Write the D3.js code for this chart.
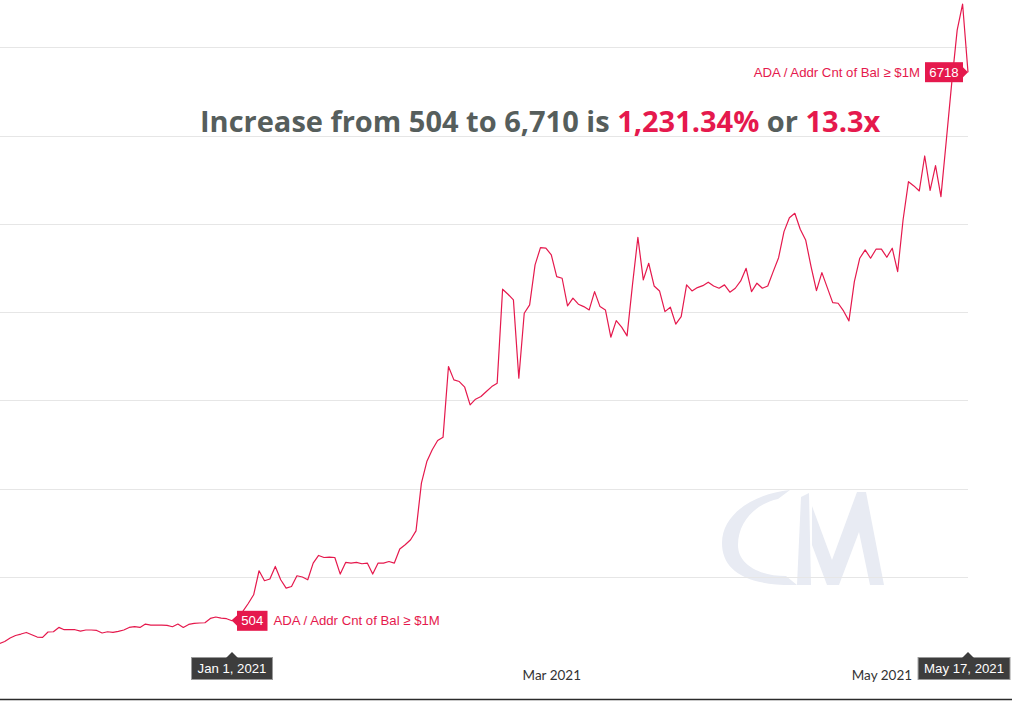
<!DOCTYPE html>
<html>
<head>
  <meta charset="utf-8" />
  <title>ADA / Addr Cnt of Bal ≥ $1M</title>
  <style>
    body { margin: 0; background: #fff; }
    svg { display: block; }
    .tick text { font-family: Lato, "Open Sans", sans-serif; font-size: 13.5px; fill: #333; }
    .tag { font-family: "Liberation Sans", Arial, sans-serif; font-size: 13.2px; }
  </style>
  <script src="https://cdnjs.cloudflare.com/ajax/libs/d3/7.8.5/d3.min.js"></script>
</head>
<body>
<svg id="chart" width="1014" height="708"></svg>
<script>
  // daily series, starting 2020-11-19
  var startDate = "2020-11-19"
  var endDate = "2021-05-17"
  var values = [
    245,
    270, 309, 338, 354, 372, 346, 320, 316, 377, 380, 429, 403, 403, 403, 388, 400, 400, 395, 366, 380, 372,
    384, 400, 429, 437, 429, 467, 456, 456, 456, 452, 437, 467, 429, 463, 474, 479, 482, 531, 547, 535, 528, 504,
    560, 610, 700, 799, 1071, 958, 977, 1120, 969, 875, 893, 1014, 1000, 969, 1158, 1244, 1221, 1226, 1221, 1033,
    1165, 1158, 1165, 1150, 1158, 1033, 1158, 1158, 1176, 1158, 1317, 1365, 1422,
    1523, 2064, 2308, 2441, 2546, 2584, 3384, 3233, 3214, 3150, 2950, 3014, 3044, 3101, 3157, 3196, 4260, 4203,
    4139, 3252, 3988, 4082,
    4535, 4731, 4725, 4648, 4402, 4384, 4071, 4158, 4090, 4063, 4025, 4233, 4063, 4025, 3716, 3904, 3830, 3731,
    4309, 4848, 4365, 4554, 4297, 4240, 4006, 4056, 3864, 3950, 4309, 4240, 4278, 4300, 4339, 4297, 4271, 4309,
    4226, 4271, 4354, 4497, 4233, 4328, 4271, 4297, 4459, 4617, 4912, 5070, 5120, 4939, 4818, 4516, 4244, 4448,
    4278, 4108, 4101, 4014, 3901, 4346, 4611, 4705, 4611, 4713, 4713, 4622, 4724, 4459,
    5044, 5478, 5430, 5373, 5769, 5380, 5659, 5308, 5950, 6600, 7195, 7490, 6718
  ]
  var gridValues = [1000, 2000, 3000, 4000, 5000, 6000, 7000]
  // the Jan 2021 tick sits under the Jan 1 tooltip, so only these show
  var tickDates = ["2021-03-01", "2021-05-01"]
  var seriesName = "ADA / Addr Cnt of Bal ≥ $1M"
  var startMark = { date: "2021-01-01", value: 504, label: "Jan 1, 2021" }
  var endMark = { date: "2021-05-17", value: 6718, label: "May 17, 2021" }
  var titleParts = [
    { text: "Increase from 504 to 6,710 is ", red: false },
    { text: "1,231.34%", red: true },
    { text: " or ", red: false },
    { text: "13.3x", red: true }
  ]

  var red = "#e5194d"
  var parse = d3.timeParse("%Y-%m-%d")

  var data = values.map(function (v, i) {
    return { date: d3.timeDay.offset(parse(startDate), i), value: v }
  })

  var svg = d3.select("#chart")

  var x = d3.scaleTime()
    .domain([parse(startDate), parse(endDate)])
    .range([-0.7, 968])

  var y = d3.scaleLinear()
    .domain([0, 7000])
    .range([665.3, 47.3])

  // watermark
  var wm = svg.append("g").style("fill", "#e8ebf3")
  wm.append("path")
    .attr("d", "M790,490 C752,494 722,515 722,543 C722,570 745,586 797,585 L786,576 C760,576 738,565 738,545 C738,522 755,504 778,499 Z")
  wm.append("path")
    .attr("d", "M797,585 L801,497 L809,493 L811,585 Z")
  wm.append("path")
    .attr("d", "M812,506 L832,560 L857,492 L866,492 L884,585 L870,585 L859,532 L839,585 L827,585 L812,545 Z")

  // grid
  svg.append("g").selectAll("line")
    .data(gridValues)
    .enter()
    .append("line")
    .attr("x1", 0)
    .attr("x2", x.range()[1])
    .attr("y1", function (d) { return Math.round(y(d)) + 0.5 })
    .attr("y2", function (d) { return Math.round(y(d)) + 0.5 })
    .style("stroke", "#e6e6e6")
    .style("stroke-width", 1)

  // x axis
  var xAxis = d3.axisBottom(x)
    .tickValues(tickDates.map(parse))
    .tickFormat(d3.timeFormat("%b %Y"))
    .tickSize(0)
    .tickPadding(5)

  var gx = svg.append("g")
    .attr("transform", "translate(0," + y(0) + ")")
    .call(xAxis)
  gx.select(".domain").remove()

  svg.append("line")
    .attr("x1", 0).attr("x2", 1012)
    .attr("y1", 699.5).attr("y2", 699.5)
    .style("stroke", "#2b2b2b")
    .style("stroke-width", 1.5)

  // series line
  var line = d3.line()
    .x(function (d) { return x(d.date) })
    .y(function (d) { return y(d.value) })

  svg.append("path")
    .datum(data)
    .attr("d", line)
    .style("fill", "none")
    .style("stroke", red)
    .style("stroke-width", 1.2)
    .style("stroke-linejoin", "round")

  // value tags on the line
  function valueTag(mark, side) {
    var px = x(parse(mark.date)), py = y(mark.value)
    var w = String(mark.value).length * 7.5 + 8, h = 20, a = 5
    var g = svg.append("g").attr("class", "tag")
    var bx = side == "right" ? px + a : px - a - w
    var base = side == "right" ? px + a : px - a
    g.append("path")
      .attr("d", "M" + px + "," + py + "L" + base + "," + (py - 5) + "L" + base + "," + (py + 5) + "Z")
      .style("fill", red)
    g.append("rect")
      .attr("x", bx).attr("y", py - h / 2)
      .attr("width", w).attr("height", h)
      .style("fill", red)
    g.append("text")
      .attr("x", bx + w / 2).attr("y", py + 4.5)
      .attr("text-anchor", "middle")
      .style("fill", "#fff")
      .text(mark.value)
    g.append("text")
      .attr("x", side == "right" ? bx + w + 6 : bx - 5)
      .attr("y", py + 4.5)
      .attr("text-anchor", side == "right" ? "start" : "end")
      .style("fill", red)
      .text(seriesName)
  }

  // date tooltips on the axis
  function dateTag(mark, rightEdge) {
    var px = x(parse(mark.date))
    var g = svg.append("g").attr("class", "tag")
    var t = g.append("text")
      .attr("y", 673)
      .style("fill", "#fff")
      .text(mark.label)
    var tw = t.node().getComputedTextLength()
    var w = tw + 12, top = 657.5, h = 22
    var bx = px - w / 2
    if (rightEdge && bx + w > rightEdge) bx = rightEdge - w
    g.insert("rect", "text")
      .attr("x", bx).attr("y", top)
      .attr("width", w).attr("height", h)
      .style("fill", "#3d3d3d")
      .style("stroke", "#9a9a9a")
      .style("stroke-width", 1)
    g.insert("path", "text")
      .attr("d", "M" + (px - 6) + "," + (top + 0.5) + "L" + px + "," + (top - 5.5) + "L" + (px + 6) + "," + (top + 0.5) + "Z")
      .style("fill", "#3d3d3d")
    t.attr("x", bx + 6)
  }

  valueTag(startMark, "right")
  valueTag(endMark, "left")
  dateTag(startMark)
  dateTag(endMark, 1010)

  // headline
  var title = svg.append("text")
    .attr("x", 200)
    .attr("y", 132)
    .style("font-family", "'Open Sans', sans-serif")
    .style("font-weight", 700)
    .style("font-size", "29px")
  title.selectAll("tspan")
    .data(titleParts)
    .enter()
    .append("tspan")
    .style("fill", function (d) { return d.red ? red : "#565e5c" })
    .text(function (d) { return d.text })
</script>
</body>
</html>
